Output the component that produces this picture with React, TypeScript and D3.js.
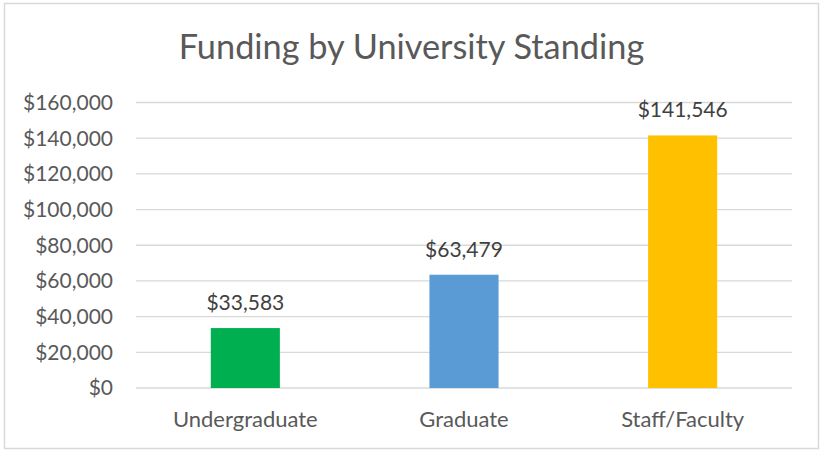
import React from "react";
import * as d3 from "d3";

const categories = ["Undergraduate", "Graduate", "Staff/Faculty"];
const funding = [33583, 63479, 141546];
const barColors = ["#00B050", "#5B9BD5", "#FFC000"];
const yTicks = [0, 20000, 40000, 60000, 80000, 100000, 120000, 140000, 160000];
const title = "Funding by University Standing";

const W = 821;
const H = 450;
const plot = { left: 136, right: 792, top: 102.5, bottom: 388 };
const font = "Lato, 'Open Sans', sans-serif";

export default function App() {
  const x = d3
    .scaleBand<string>()
    .domain(categories)
    .range([plot.left, plot.right])
    .paddingInner(0)
    .paddingOuter(0);
  const y = d3.scaleLinear().domain([0, 160000]).range([plot.bottom, plot.top]);
  const money = (v: number) => "$" + d3.format(",")(v);
  const barW = x.bandwidth() * 0.316;

  return (
    <svg
      width={W}
      height={H}
      style={{ position: "absolute", left: 0, top: 0, background: "#fff" }}
    >
      <rect x={4.5} y={3.5} width={814} height={445} fill="#fff" stroke="#d9d9d9" strokeWidth={1.5} />
      <text
        x={411.5}
        y={59}
        textAnchor="middle"
        fontFamily={font}
        fontSize={34.3}
        fill="#595959"
      >
        {title}
      </text>
      {yTicks.map((t) => (
        <g key={t}>
          <line
            x1={plot.left}
            x2={plot.right}
            y1={y(t)}
            y2={y(t)}
            stroke="#d9d9d9"
            strokeWidth={1.3}
          />
          <text
            x={113}
            y={y(t)}
            dy="0.35em"
            textAnchor="end"
            fontFamily={font}
            fontSize={21}
            fill="#595959"
          >
            {money(t)}
          </text>
        </g>
      ))}
      {categories.map((c, i) => {
        const cx = (x(c) as number) + x.bandwidth() / 2;
        return (
          <g key={c}>
            <rect
              x={cx - barW / 2}
              y={y(funding[i])}
              width={barW}
              height={y(0) - y(funding[i])}
              fill={barColors[i]}
            />
            <text
              x={cx}
              y={y(funding[i]) - 18}
              textAnchor="middle"
              fontFamily={font}
              fontSize={21}
              fill="#404040"
            >
              {money(funding[i])}
            </text>
            <text
              x={cx}
              y={426.5}
              textAnchor="middle"
              fontFamily={font}
              fontSize={22}
              fill="#595959"
            >
              {c}
            </text>
          </g>
        );
      })}
    </svg>
  );
}
